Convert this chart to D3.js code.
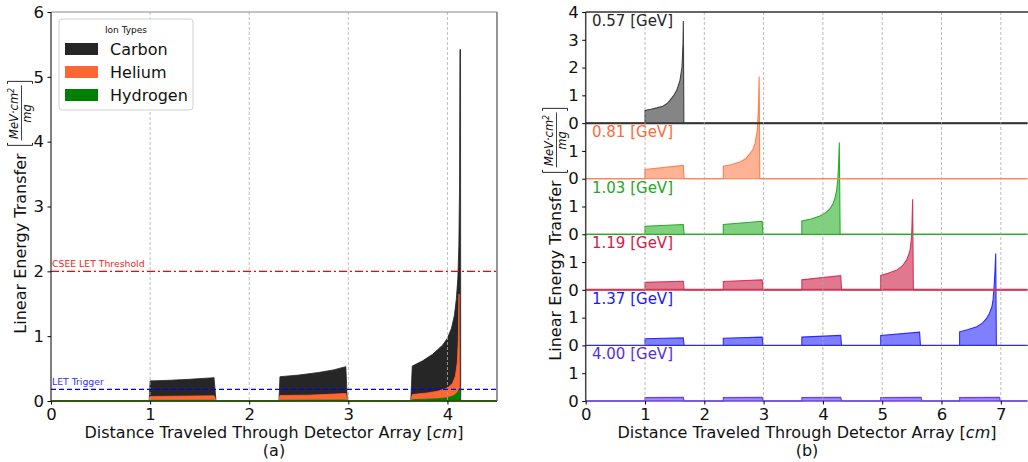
<!DOCTYPE html>
<html>
<head>
<meta charset="utf-8">
<script src="https://cdn.jsdelivr.net/npm/d3@7"></script>
<style>
  body { margin: 0; background: #fff; }
  svg { display: block; font-family: "DejaVu Sans", sans-serif; }
</style>
</head>
<body>
<svg width="1028" height="462"></svg>
<script>
// ---- panel (a): LET of each ion along the detector array [x (cm), LET]
var ionNames = ["Carbon", "Helium", "Hydrogen"];
var ionColors = ["#262626", "#ff6633", "#008000"];
var carbonLET = [[0,0],[0.99,0],[1.0,0.31],[1.2,0.32],[1.4,0.335],[1.645,0.36],[1.665,0],
  [2.30,0],[2.31,0.375],[2.5,0.40],[2.7,0.44],[2.85,0.48],[2.975,0.53],[2.99,0],
  [3.63,0],[3.645,0.54],[3.75,0.62],[3.85,0.72],[3.95,0.86],[4.0,0.97],[4.04,1.12],[4.07,1.32],
  [4.09,1.58],[4.105,1.9],[4.115,2.4],[4.122,3.3],[4.126,5.42],[4.132,5.42],[4.134,0],[4.5,0]];
var heliumLET = [[0,0],[0.99,0],[1.0,0.07],[1.645,0.08],[1.665,0],
  [2.30,0],[2.31,0.085],[2.6,0.09],[2.975,0.115],[2.99,0],
  [3.63,0],[3.645,0.10],[3.8,0.125],[3.9,0.15],[4.0,0.2],[4.05,0.27],[4.08,0.38],[4.1,0.6],
  [4.11,0.95],[4.117,1.65],[4.123,0],[4.5,0]];
var hydrogenLET = [[0,0],[0.99,0],[1.0,0.01],[1.645,0.012],[1.665,0],
  [2.30,0],[2.31,0.012],[2.975,0.015],[2.99,0],
  [3.63,0],[3.645,0.02],[3.9,0.035],[4.0,0.05],[4.06,0.08],[4.1,0.13],[4.12,0.19],[4.128,0],[4.5,0]];
var thresholdLET = 2.0;
var triggerLET = 0.18;
var ticksA = [0, 1, 2, 3, 4];
var yTicksA = [0, 1, 2, 3, 4, 5, 6];

// ---- panel (b): one LET trace per beam energy
var energies = ["0.57 [GeV]", "0.81 [GeV]", "1.03 [GeV]", "1.19 [GeV]", "1.37 [GeV]", "4.00 [GeV]"];
var energyColors = ["#404040", "#ff7f50", "#2aaa2a", "#d6365a", "#2b2bff", "#6a40e6"];
var energyFills = ["#858585", "#ffb394", "#80d080", "#e07890", "#8080ff", "#a58cf0"];
var labelColors = ["#262626", "#ff6a3a", "#22a822", "#d0204a", "#1a1aff", "#5a2ee0"];
var yMaxB = [4, 2, 2, 2, 2, 2];
var let057 = [[0,0],[1.0,0],[1.0,0.46],[1.1,0.50],[1.2,0.55],[1.3,0.61],[1.38,0.72],[1.42,0.82],[1.48,0.98],
  [1.535,1.18],[1.59,1.54],[1.624,2.02],[1.641,2.87],[1.647,3.68],[1.655,0],[7.45,0]];
var let081 = [[0,0],[1.0,0],[1.0,0.33],[1.645,0.48],[1.66,0],
  [2.32,0],[2.32,0.45],[2.45,0.50],[2.60,0.60],[2.70,0.72],[2.77,0.90],[2.82,1.06],[2.855,1.26],
  [2.894,1.74],[2.912,2.5],[2.925,3.68],[2.935,0],[7.45,0]];
var let103 = [[0,0],[1.0,0],[1.0,0.29],[1.645,0.35],[1.66,0],
  [2.32,0],[2.32,0.35],[2.975,0.47],[2.99,0],
  [3.645,0],[3.645,0.48],[3.8,0.55],[3.95,0.66],[4.05,0.78],[4.12,0.92],[4.17,1.1],[4.20,1.28],
  [4.23,1.55],[4.25,1.94],[4.265,2.5],[4.277,3.30],[4.29,0],[7.45,0]];
var let119 = [[0,0],[1.0,0],[1.0,0.27],[1.645,0.31],[1.66,0],
  [2.32,0],[2.32,0.30],[2.975,0.36],[2.99,0],
  [3.645,0],[3.645,0.36],[4.30,0.51],[4.315,0],
  [4.975,0],[4.975,0.52],[5.1,0.60],[5.245,0.71],[5.34,0.86],[5.41,1.07],[5.45,1.28],[5.47,1.43],
  [5.49,1.8],[5.50,2.15],[5.513,3.26],[5.525,0],[7.45,0]];
var let137 = [[0,0],[1.0,0],[1.0,0.24],[1.645,0.27],[1.66,0],
  [2.32,0],[2.32,0.26],[2.975,0.30],[2.99,0],
  [3.645,0],[3.645,0.30],[4.30,0.36],[4.315,0],
  [4.975,0],[4.975,0.36],[5.63,0.48],[5.645,0],
  [6.305,0],[6.305,0.49],[6.45,0.57],[6.594,0.67],[6.69,0.8],[6.76,0.97],[6.81,1.16],[6.85,1.39],
  [6.87,1.65],[6.886,2.1],[6.9,2.6],[6.914,3.31],[6.925,0],[7.45,0]];
var let400 = [[0,0],[1.0,0],[1.0,0.12],[1.645,0.13],[1.66,0],
  [2.32,0],[2.32,0.12],[2.975,0.13],[2.99,0],
  [3.645,0],[3.645,0.12],[4.30,0.13],[4.315,0],
  [4.975,0],[4.975,0.12],[5.655,0.13],[5.67,0],
  [6.305,0],[6.305,0.12],[6.975,0.13],[6.99,0],[7.45,0]];
var energyLET = [let057, let081, let103, let119, let137, let400];
var ticksB = [0, 1, 2, 3, 4, 5, 6, 7];

var xLabel = "Distance Traveled Through Detector Array [";

function main() {
    var svg = d3.select("svg");

    // ------------- panel (a) -------------
    var xA = d3.scaleLinear().domain([0, 4.5]).range([51, 497]);
    var yA = d3.scaleLinear().domain([0, 6]).range([401, 12]);
    var gA = svg.append("g");

    var area = d3.area().x(d => xA(d[0])).y0(yA(0)).y1(d => yA(d[1]));
    [carbonLET, heliumLET, hydrogenLET].forEach(function (s, i) {
        gA.append("path").datum(s).attr("d", area).attr("fill", ionColors[i])
            .attr("stroke", ionColors[i]).attr("stroke-width", 0.8);
    });

    // vertical grid
    gA.selectAll(".grid").data(ticksA.slice(1)).enter().append("line")
        .attr("x1", d => xA(d)).attr("x2", d => xA(d))
        .attr("y1", 12).attr("y2", 401)
        .attr("stroke", "#b0b0b0").attr("stroke-width", 0.8).attr("stroke-dasharray", "3,2");

    // threshold lines
    gA.append("line").attr("x1", 51).attr("x2", 497)
        .attr("y1", yA(thresholdLET)).attr("y2", yA(thresholdLET))
        .attr("stroke", "#ff0000").attr("stroke-width", 1.3).attr("stroke-dasharray", "8,3,2,3");
    gA.append("text").attr("x", 52).attr("y", yA(thresholdLET) - 4)
        .attr("font-size", "9.3px").attr("fill", "#ff2020").text("CSEE LET Threshold");
    gA.append("line").attr("x1", 51).attr("x2", 497)
        .attr("y1", yA(triggerLET)).attr("y2", yA(triggerLET))
        .attr("stroke", "#0000ee").attr("stroke-width", 1.3).attr("stroke-dasharray", "5,3");
    gA.append("text").attr("x", 52).attr("y", yA(triggerLET) - 4)
        .attr("font-size", "9.3px").attr("fill", "#3030ff").text("LET Trigger");

    // frame
    gA.append("line").attr("x1", 51).attr("x2", 497).attr("y1", 12).attr("y2", 12)
        .attr("stroke", "#8a8a8a").attr("stroke-width", 1.2);
    gA.append("line").attr("x1", 497).attr("x2", 497).attr("y1", 12).attr("y2", 401)
        .attr("stroke", "#8a8a8a").attr("stroke-width", 1.8);
    gA.append("line").attr("x1", 51).attr("x2", 51).attr("y1", 12).attr("y2", 401)
        .attr("stroke", "#000").attr("stroke-width", 1);
    gA.append("line").attr("x1", 51).attr("x2", 497).attr("y1", 401).attr("y2", 401)
        .attr("stroke", "#2a4a10").attr("stroke-width", 1.6);

    // axes
    var axA = gA.append("g").attr("transform", "translate(0,401)")
        .call(d3.axisBottom(xA).tickValues(ticksA).tickSize(3.5).tickPadding(3.5).tickFormat(d3.format("d")));
    var ayA = gA.append("g").attr("transform", "translate(51,0)")
        .call(d3.axisLeft(yA).tickValues(yTicksA).tickSize(3.5).tickPadding(3.5).tickFormat(d3.format("d")));
    [axA, ayA].forEach(function (a) {
        a.select(".domain").remove();
        a.selectAll("text").attr("font-size", "16.5px").attr("font-family", "DejaVu Sans").attr("fill", "#111");
    });

    // legend
    var lg = gA.append("g");
    lg.append("rect").attr("x", 59).attr("y", 19).attr("width", 134).attr("height", 91)
        .attr("rx", 3).attr("fill", "#fff").attr("fill-opacity", 0.8).attr("stroke", "#d0d0d0");
    lg.append("text").attr("x", 126).attr("y", 33).attr("text-anchor", "middle")
        .attr("font-size", "9px").attr("fill", "#111").text("Ion Types");
    ionNames.forEach(function (n, i) {
        var cy = 49 + i * 23;
        lg.append("rect").attr("x", 65).attr("y", cy - 6).attr("width", 33).attr("height", 12)
            .attr("fill", ionColors[i]);
        lg.append("text").attr("x", 110).attr("y", cy + 5.8).attr("font-size", "16px")
            .attr("fill", "#111").text(n);
    });

    axisTitle(svg, 274, 437.5, "(a)");
    yLabel(svg, 20, 207);

    // ------------- panel (b) -------------
    var xB = d3.scaleLinear().domain([0, 7.45]).range([585.7, 1027.5]);
    var unit = (401 - 12) / d3.sum(yMaxB);
    var tops = [], yB = [];
    var acc = 12;
    yMaxB.forEach(function (m, i) {
        tops.push(acc);
        yB.push(d3.scaleLinear().domain([0, m]).range([acc + m * unit, acc]));
        acc += m * unit;
    });
    var gB = svg.append("g");
    var baseWidths = [2, 1, 1.2, 2, 1.2, 1.5];

    // bottom subplots first so that upper baselines sit on top of tall peaks
    for (var i = energies.length - 1; i >= 0; i--) {
        var ys = yB[i];
        var areaB = d3.area().x(d => xB(d[0])).y0(ys(0)).y1(d => ys(d[1]));
        var lineB = d3.line().x(d => xB(d[0])).y(d => ys(d[1]));
        gB.append("path").datum(energyLET[i]).attr("d", areaB).attr("fill", energyFills[i]);
        gB.append("path").datum(energyLET[i]).attr("d", lineB).attr("fill", "none")
            .attr("stroke", energyColors[i]).attr("stroke-width", 1.1);
        gB.append("line").attr("x1", xB(0)).attr("x2", xB(7.45))
            .attr("y1", ys(0)).attr("y2", ys(0))
            .attr("stroke", i == 0 ? "#333" : energyColors[i]).attr("stroke-width", baseWidths[i]);
    }

    gB.selectAll(".grid").data(ticksB.slice(1)).enter().append("line")
        .attr("x1", d => xB(d)).attr("x2", d => xB(d))
        .attr("y1", 12).attr("y2", 401)
        .attr("stroke", "#a8a8a8").attr("stroke-width", 0.8).attr("stroke-dasharray", "3,2");

    gB.append("line").attr("x1", xB(0)).attr("x2", 1028).attr("y1", 12).attr("y2", 12)
        .attr("stroke", "#333").attr("stroke-width", 1.5);
    gB.append("line").attr("x1", xB(0)).attr("x2", xB(0)).attr("y1", 12).attr("y2", 401)
        .attr("stroke", "#444").attr("stroke-width", 1.5);

    energies.forEach(function (e, i) {
        var ay = gB.append("g").attr("transform", "translate(" + xB(0) + ",0)")
            .call(d3.axisLeft(yB[i]).tickValues(d3.range(0, yMaxB[i] + (i == 0 ? 1 : 0)))
                .tickSize(3.5).tickPadding(3.5).tickFormat(d3.format("d")));
        ay.select(".domain").remove();
        ay.selectAll("text").attr("font-size", "16.5px").attr("font-family", "DejaVu Sans").attr("fill", "#111");
        gB.append("text").attr("x", 592).attr("y", tops[i] + 14).attr("font-size", "15px")
            .attr("fill", labelColors[i]).text(e);
    });

    var axB = gB.append("g").attr("transform", "translate(0,401)")
        .call(d3.axisBottom(xB).tickValues(ticksB).tickSize(3.5).tickPadding(3.5).tickFormat(d3.format("d")));
    axB.select(".domain").remove();
    axB.selectAll("text").attr("font-size", "16.5px").attr("font-family", "DejaVu Sans").attr("fill", "#111");

    axisTitle(svg, 807, 437.5, "(b)");
    yLabel(svg, 555, 234);
}

function axisTitle(svg, cx, y, sub) {
    var t = svg.append("text").attr("x", cx).attr("y", y).attr("text-anchor", "middle")
        .attr("font-size", "16px").attr("fill", "#111");
    t.append("tspan").text(xLabel);
    t.append("tspan").attr("font-style", "italic").text("cm");
    t.append("tspan").text("]");
    svg.append("text").attr("x", cx).attr("y", y + 18).attr("text-anchor", "middle")
        .attr("font-size", "16px").attr("fill", "#111").text(sub);
}

function yLabel(svg, cx, cy) {
    var g = svg.append("g").attr("transform", "translate(" + cx + "," + cy + ") rotate(-90)");
    var t = g.append("text").attr("font-size", "16px").attr("fill", "#111")
        .attr("dy", "0.35em").text("Linear Energy Transfer");
    var w1 = t.node().getComputedTextLength();
    var fw = 66, gap = 7;
    var x0 = -(w1 + gap + fw) / 2;
    t.attr("x", x0);
    var f = g.append("g").attr("transform", "translate(" + (x0 + w1 + gap) + ",0)");
    var br = "M3.5,-12.5 L1,-12.5 L1,12.5 L3.5,12.5";
    f.append("path").attr("d", br).attr("fill", "none").attr("stroke", "#111").attr("stroke-width", 0.9);
    f.append("path").attr("d", br).attr("transform", "translate(" + fw + ",0) scale(-1,1)")
        .attr("fill", "none").attr("stroke", "#111").attr("stroke-width", 0.9);
    f.append("line").attr("x1", 6).attr("x2", fw - 5).attr("y1", 1.5).attr("y2", 1.5)
        .attr("stroke", "#111").attr("stroke-width", 0.8);
    var num = f.append("text").attr("x", fw / 2).attr("y", -2).attr("text-anchor", "middle")
        .attr("font-size", "11.5px").attr("font-style", "italic").attr("fill", "#111");
    num.append("tspan").text("MeV\u00b7cm");
    num.append("tspan").attr("font-size", "8px").attr("dy", -4.5).text("2");
    f.append("text").attr("x", fw / 2).attr("y", 10.5).attr("text-anchor", "middle")
        .attr("font-size", "11.5px").attr("font-style", "italic").attr("fill", "#111").text("mg");
}

main();
</script>
</body>
</html>
